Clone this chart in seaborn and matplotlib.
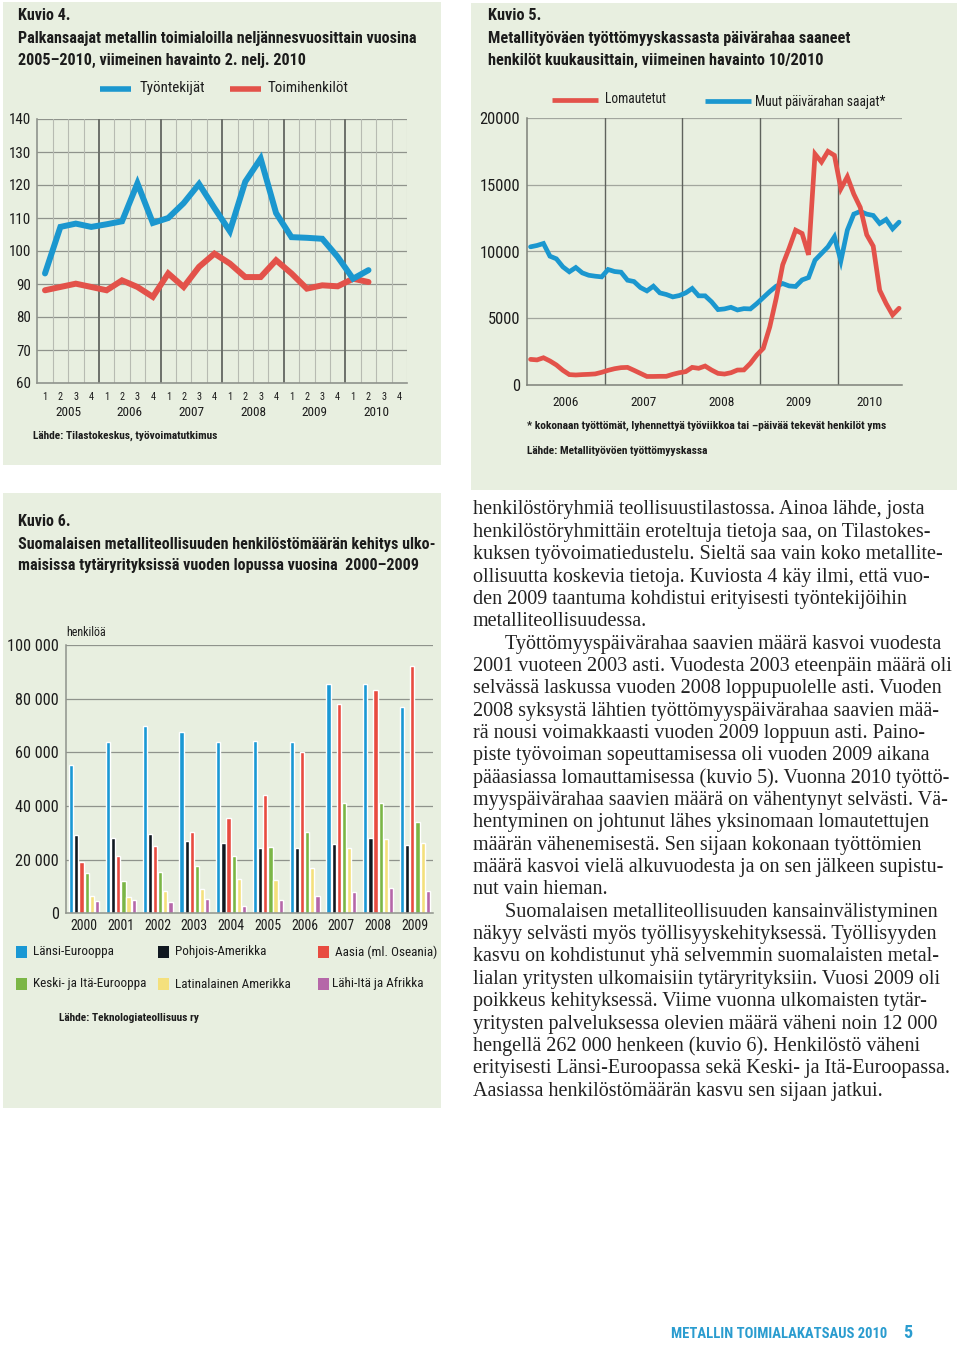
import numpy as np
import pandas as pd
import matplotlib
matplotlib.use("Agg")
import matplotlib.pyplot as plt
import matplotlib.transforms as mtransforms
from matplotlib import font_manager as fm
from matplotlib.patches import Rectangle
import matplotlib.ticker as mticker
import seaborn as sns

# --- Kuvio 4: palkansaajat neljännesvuosittain ---
k4_quarters = ["1", "2", "3", "4"] * 6
k4_years = ["2005", "2006", "2007", "2008", "2009", "2010"]
k4_tyontekijat = [93.2, 107.3, 108.3, 107.3, 108.1, 109.0, 120.5, 108.5,
                  110.0, 114.5, 120.3, 113.0, 106.0, 121.0, 128.0, 111.5,
                  104.2, 104.0, 103.7, 98.2, 91.6, 94.2]
k4_toimihenkilot = [88.1, 89.1, 90.1, 89.1, 88.1, 91.1, 89.1, 86.1,
                    93.2, 89.1, 95.2, 99.2, 96.2, 92.1, 92.1, 97.2,
                    93.2, 88.6, 89.6, 89.3, 91.6, 90.6]

# --- Kuvio 5: päivärahaa saaneet kuukausittain 1/2006-10/2010 ---
k5_years = ["2006", "2007", "2008", "2009", "2010"]
k5_muut = [10350, 10450, 10600, 9650, 9450, 8850, 8480, 8800, 8400, 8220, 8150, 8100,
           8650, 8500, 8450, 7850, 7750, 7300, 7050, 7400, 6900, 6780, 6600, 6700,
           6900, 7230, 6680, 6680, 6230, 5650, 5700, 5820, 5620, 5720, 5700, 6100,
           6550, 7000, 7400, 7600, 7420, 7380, 7870, 8050, 9350, 9850, 10350, 11100,
           9300, 11600, 12800, 13000, 12800, 12700, 12100, 12400, 11700, 12200]
k5_lomautetut = [1920, 1880, 2040, 1800, 1500, 1100, 780, 750, 780, 800, 830, 950,
                 1100, 1220, 1300, 1320, 1100, 870, 640, 640, 650, 650, 800, 920,
                 1000, 1320, 1250, 1420, 1120, 870, 820, 920, 1120, 1130, 1620, 2250,
                 2750, 4350, 6500, 9000, 10250, 11600, 11350, 9750, 17300, 16700, 17500, 17200,
                 14700, 15600, 14300, 13300, 11250, 10400, 7100, 6100, 5250, 5750]

# --- Kuvio 6: henkilöstö ulkomaisissa tytäryrityksissä ---
k6_years = ["2000", "2001", "2002", "2003", "2004", "2005", "2006", "2007", "2008", "2009"]
k6_regions = ["Länsi-Eurooppa", "Pohjois-Amerikka", "Aasia (ml. Oseania)",
              "Keski- ja Itä-Eurooppa", "Latinalainen Amerikka", "Lähi-Itä ja Afrikka"]
k6_lansi = [55200, 63900, 69900, 67400, 64000, 64300, 63700, 85400, 85600, 77000]
k6_pohjois = [29200, 28200, 29500, 26800, 26300, 24400, 24400, 25700, 28200, 25300]
k6_aasia = [19200, 21300, 25200, 30400, 35700, 44000, 60200, 78000, 83400, 92200]
k6_keski = [14900, 12100, 15300, 17700, 21300, 24800, 30300, 41000, 41200, 34100]
k6_latina = [6400, 6200, 8300, 8900, 12800, 12400, 16800, 24300, 27700, 26300]
k6_lahi = [4600, 4900, 4300, 5200, 2700, 4900, 6600, 8000, 9300, 8300]

body_lines = [
    "henkilöstöryhmiä teollisuustilastossa. Ainoa lähde, josta",
    "henkilöstöryhmittäin eroteltuja tietoja saa, on Tilastokes-",
    "kuksen työvoimatiedustelu. Sieltä saa vain koko metallite-",
    "ollisuutta koskevia tietoja. Kuviosta 4 käy ilmi, että vuo-",
    "den 2009 taantuma kohdistui erityisesti työntekijöihin",
    "metalliteollisuudessa.",
    "Työttömyyspäivärahaa saavien määrä kasvoi vuodesta",
    "2001 vuoteen 2003 asti. Vuodesta 2003 eteenpäin määrä oli",
    "selvässä laskussa vuoden 2008 loppupuolelle asti. Vuoden",
    "2008 syksystä lähtien työttömyyspäivärahaa saavien mää-",
    "rä nousi voimakkaasti vuoden 2009 loppuun asti. Paino-",
    "piste työvoiman sopeuttamisessa oli vuoden 2009 aikana",
    "pääasiassa lomauttamisessa (kuvio 5). Vuonna 2010 työttö-",
    "myyspäivärahaa saavien määrä on vähentynyt selvästi. Vä-",
    "hentyminen on johtunut lähes yksinomaan lomautettujen",
    "määrän vähenemisestä. Sen sijaan kokonaan työttömien",
    "määrä kasvoi vielä alkuvuodesta ja on sen jälkeen supistu-",
    "nut vain hieman.",
    "Suomalaisen metalliteollisuuden kansainvälistyminen",
    "näkyy selvästi myös työllisyyskehityksessä. Työllisyyden",
    "kasvu on kohdistunut yhä selvemmin suomalaisten metal-",
    "lialan yritysten ulkomaisiin tytäryrityksiin. Vuosi 2009 oli",
    "poikkeus kehityksessä. Viime vuonna ulkomaisten tytär-",
    "yritysten palveluksessa olevien määrä väheni noin 12 000",
    "hengellä 262 000 henkeen (kuvio 6). Henkilöstö väheni",
    "erityisesti Länsi-Euroopassa sekä Keski- ja Itä-Euroopassa.",
    "Aasiassa henkilöstömäärän kasvu sen sijaan jatkui.",
]
indented = {6, 18}

BG = "#e8efe0"
BLUE = "#1b97cf"
RED = "#e3524a"
GRID = "#8f938c"
TXT = "#1c1c1c"
k6_colors = ["#1a98d4", "#101820", "#e84b40", "#7bb646", "#f4e07c", "#b567a8"]

W, H = 960, 1347

# pick a narrow sans if one is installed, the page uses a condensed grotesk
avail = {f.name for f in fm.fontManager.ttflist}
cond_pref = ["Liberation Sans Narrow", "Roboto Condensed", "Noto Sans Condensed",
             "DejaVu Sans Condensed", "Open Sans Condensed", "Noto Sans SemiCondensed"]
cond = next((n for n in cond_pref if n in avail), None)
if cond is None:
    cond = next((n for n in sorted(avail)
                 if ("Condensed" in n or "Narrow" in n) and "Extra" not in n and "Mono" not in n),
                "Roboto")
COND = [cond, "DejaVu Sans"]
SERIF = ["Liberation Serif", "DejaVu Serif"]

sns.set_style("white")
plt.rcParams["font.family"] = COND

fig = plt.figure(figsize=(W / 100, H / 100), dpi=100)
fig.patch.set_facecolor("white")
renderer = fig.canvas.get_renderer()


def fy(y):
    return 1 - y / H


def add_ax(x0, y0, x1, y1):
    ax = fig.add_axes([x0 / W, 1 - y1 / H, (x1 - x0) / W, (y1 - y0) / H])
    ax.set_facecolor("none")
    return ax


def panel(x0, y0, x1, y1):
    fig.patches.append(Rectangle((x0 / W, fy(y1)), (x1 - x0) / W, (y1 - y0) / H,
                                 transform=fig.transFigure, facecolor=BG,
                                 edgecolor="none", zorder=-1))


def fit_size(s, width, family=COND, weight="normal"):
    t = fig.text(0, 0, s, fontsize=10, family=family, fontweight=weight)
    w = t.get_window_extent(renderer).width
    t.remove()
    return 10 * width / w


def txt(x, y, s, size, weight="normal", ha="left", color=TXT, family=COND):
    fig.text(x / W, fy(y), s, fontsize=size, fontweight=weight, ha=ha, va="center",
             color=color, family=family)


def legend_line(x0, x1, y, color, lw):
    fig.lines.append(plt.Line2D([x0 / W, x1 / W], [fy(y), fy(y)], color=color, lw=lw,
                                solid_capstyle="butt", transform=fig.transFigure))


panel(3, 2, 441, 465)
panel(471, 3, 957, 490)
panel(3, 493, 441, 1108)

lahde_size = fit_size("Lähde: Tilastokeskus, työvoimatutkimus", 184, weight="bold")
title_size = fit_size("Palkansaajat metallin toimialoilla neljännesvuosittain vuosina", 398, weight="bold")

# ---------------- Kuvio 4 ----------------
txt(18, 16, "Kuvio 4.", title_size, "bold")
txt(18, 38, "Palkansaajat metallin toimialoilla neljännesvuosittain vuosina", title_size, "bold")
txt(18, 60, "2005–2010, viimeinen havainto 2. nelj. 2010", title_size, "bold")
leg4 = fit_size("Työntekijät", 65)
legend_line(100, 131, 89, BLUE, 4.0)
txt(140, 88, "Työntekijät", leg4)
legend_line(230, 261, 89, RED, 4.0)
txt(268, 88, "Toimihenkilöt", leg4)

ax4 = add_ax(37.3, 119, 407, 383)
ax4.set_xlim(-0.5, 23.5)
ax4.set_ylim(60, 140)
for v in range(70, 141, 10):
    ax4.axhline(v, color=GRID, lw=0.9, zorder=1)
for k in range(1, 25):
    if k % 4 == 0 and k < 24:
        ax4.axvline(k - 0.5, color="#6c706a", lw=1.4, zorder=1)
    else:
        ax4.axvline(k - 0.5, color="#b7bbb2", lw=0.8, zorder=1)
sns.lineplot(x=np.arange(len(k4_toimihenkilot)), y=k4_toimihenkilot, ax=ax4, color=RED,
             lw=4.3, solid_joinstyle="miter", zorder=3)
sns.lineplot(x=np.arange(len(k4_tyontekijat)), y=k4_tyontekijat, ax=ax4, color=BLUE,
             lw=4.3, solid_joinstyle="miter", zorder=4)
ax4.set_xticks(range(24))
ax4.set_xticklabels(k4_quarters, fontsize=fit_size("1", 5))
ax4.set_yticks(range(60, 141, 10))
ax4.tick_params(axis="x", length=0, pad=6.5, colors=TXT)
ax4.tick_params(axis="y", length=0, pad=4.3, colors=TXT, labelsize=fit_size("140", 22))
ax4.set_xlabel("")
ax4.set_ylabel("")
for s in ["top", "right"]:
    ax4.spines[s].set_visible(False)
for s in ["left", "bottom"]:
    ax4.spines[s].set_color(GRID)
    ax4.spines[s].set_linewidth(1.2)
blend4 = mtransforms.blended_transform_factory(ax4.transData, fig.transFigure)
ysz4 = fit_size("2005", 26)
for j, yr in enumerate(k4_years):
    ax4.text(4 * j + 1.5, fy(413), yr, transform=blend4, ha="center", va="center",
             fontsize=ysz4, color=TXT)
txt(33, 436, "Lähde: Tilastokeskus, työvoimatutkimus", lahde_size, "bold")

# ---------------- Kuvio 5 ----------------
title5 = fit_size("Metallityöväen työttömyyskassasta päivärahaa saaneet", 360, weight="bold")
txt(488, 16, "Kuvio 5.", title5, "bold")
txt(488, 38, "Metallityöväen työttömyyskassasta päivärahaa saaneet", title5, "bold")
txt(488, 60, "henkilöt kuukausittain, viimeinen havainto 10/2010", title5, "bold")
leg5 = fit_size("Lomautetut", 61)
legend_line(552, 598, 100, RED, 3.4)
txt(605, 99, "Lomautetut", leg5)
legend_line(705, 751, 101, BLUE, 3.4)
txt(755, 102, "Muut päivärahan saajat*", leg5)

ax5 = add_ax(527.3, 118, 902.3, 385)
ax5.set_xlim(0, 58)
ax5.set_ylim(0, 20000)
for v in range(5000, 20001, 5000):
    ax5.axhline(v, color="#a2a69e", lw=0.9, zorder=1)
for v in [12, 24, 36, 48]:
    ax5.axvline(v, color="#5f635d", lw=1.0, zorder=1)
months = np.arange(len(k5_muut)) + 0.5
sns.lineplot(x=months, y=k5_muut, ax=ax5, color=BLUE, lw=3.4, solid_joinstyle="miter", zorder=3)
sns.lineplot(x=months, y=k5_lomautetut, ax=ax5, color=RED, lw=3.4, solid_joinstyle="miter", zorder=4)
ax5.set_yticks(range(0, 20001, 5000))
ax5.set_xticks([])
ax5.set_xticks(range(0, 59), minor=True)
ax5.tick_params(axis="x", which="minor", direction="inout", length=8, width=0.8, color="#6c706a")
ax5.tick_params(axis="y", length=0, pad=5, colors=TXT, labelsize=fit_size("20000", 40))
ax5.set_xlabel("")
ax5.set_ylabel("")
for s in ["top", "right"]:
    ax5.spines[s].set_visible(False)
for s in ["left", "bottom"]:
    ax5.spines[s].set_color("#7d8179")
    ax5.spines[s].set_linewidth(1.1)
blend5 = mtransforms.blended_transform_factory(ax5.transData, fig.transFigure)
ysz5 = fit_size("2006", 26)
for j, yr in enumerate(k5_years):
    xc = 12 * j + 6 if j < 4 else 53
    ax5.text(xc, fy(402), yr, transform=blend5, ha="center", va="center", fontsize=ysz5, color=TXT)
foot = "* kokonaan työttömät, lyhennettyä työviikkoa tai –päivää tekevät henkilöt yms"
txt(527, 426, foot, fit_size(foot, 361, weight="bold"), "bold")
txt(527, 451, "Lähde: Metallityövöen työttömyyskassa", lahde_size, "bold")

# ---------------- Kuvio 6 ----------------
title6 = fit_size("Suomalaisen metalliteollisuuden henkilöstömäärän kehitys ulko-", 418, weight="bold")
txt(18, 521, "Kuvio 6.", title6, "bold")
txt(18, 544, "Suomalaisen metalliteollisuuden henkilöstömäärän kehitys ulko-", title6, "bold")
txt(18, 566, "maisissa tytäryrityksissä vuoden lopussa vuosina  2000–2009", title6, "bold")
txt(66, 633, "henkilöä", fit_size("henkilöä", 40))

series6 = [k6_lansi, k6_pohjois, k6_aasia, k6_keski, k6_latina, k6_lahi]
df6 = pd.DataFrame({
    "vuosi": np.tile(k6_years, len(k6_regions)),
    "alue": np.repeat(k6_regions, len(k6_years)),
    "henkilöä": np.concatenate(series6),
})
ax6 = add_ax(65.7, 645, 433.3, 913.3)
for v in range(20000, 100001, 20000):
    ax6.axhline(v, color=GRID, lw=0.9, zorder=0)
sns.barplot(data=df6, x="vuosi", y="henkilöä", hue="alue", hue_order=k6_regions,
            palette=k6_colors, saturation=1, width=0.84, gap=0.17, errorbar=None,
            legend=False, ax=ax6, zorder=2)
ax6.set_xlim(-0.5, 9.5)
ax6.set_ylim(0, 100000)
ax6.set_yticks(range(0, 100001, 20000))
ax6.yaxis.set_major_formatter(mticker.FuncFormatter(lambda v, p: f"{int(v):,}".replace(",", " ")))
ax6.tick_params(axis="y", length=0, pad=4.7, colors=TXT, labelsize=fit_size("100 000", 51))
ax6.tick_params(axis="x", length=0, pad=4.3, colors=TXT, labelsize=fit_size("2000", 27))
ax6.set_xlabel("")
ax6.set_ylabel("")
for s in ["top", "right"]:
    ax6.spines[s].set_visible(False)
for s in ["left", "bottom"]:
    ax6.spines[s].set_color(GRID)
    ax6.spines[s].set_linewidth(1.1)

leg6 = fit_size("Länsi-Eurooppa", 81)
leg6_pos = [(16, 952), (158, 952), (318, 952), (16, 984), (158, 984), (318, 984)]
for (lx, ly), name, col in zip(leg6_pos, k6_regions, k6_colors):
    fig.patches.append(Rectangle((lx / W, fy(ly + 6)), 11 / W, 12 / H, transform=fig.transFigure,
                                 facecolor=col, edgecolor="none", zorder=1))
    tx = lx + 17 if name != "Lähi-Itä ja Afrikka" else lx + 14
    txt(tx, ly, name, leg6)
txt(59, 1018, "Lähde: Teknologiateollisuus ry", lahde_size, "bold")

# ---------------- Leipäteksti ----------------
body_size = fit_size(body_lines[7], 479, family=SERIF)
for i, line in enumerate(body_lines):
    x = 505 if i in indented else 473
    txt(x, 510 + i * 22.35, line, body_size, color="#222222", family=SERIF)

footer = "METALLIN TOIMIALAKATSAUS 2010"
txt(671, 1334, footer, fit_size(footer, 215, weight="bold"), "bold", color="#2a9ccf")
txt(903, 1333, "5", 13, "bold", color="#2a9ccf")

fig.savefig("out.png", dpi=100, facecolor="white")
